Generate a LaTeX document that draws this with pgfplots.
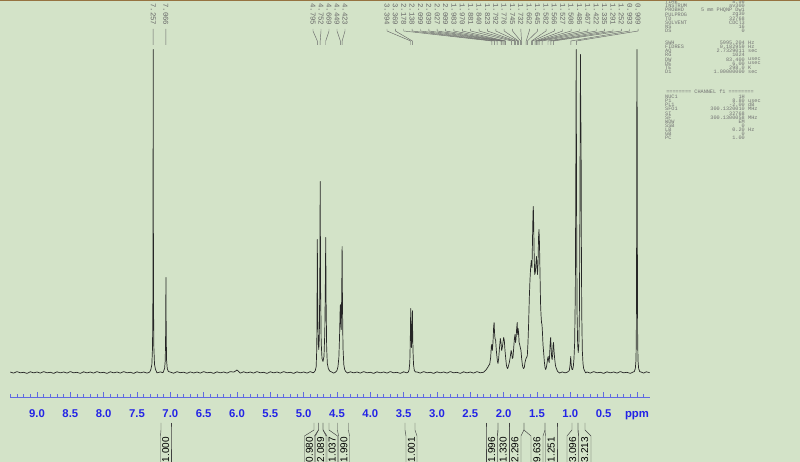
\documentclass[border=0pt]{standalone}
\usepackage{fontspec}
\setmainfont{Liberation Sans}
\newfontfamily\monofont{Liberation Mono}
\usepackage{pgfplots}
\pgfplotsset{compat=1.18}
\definecolor{bg}{RGB}{211,227,200}
\definecolor{axisblue}{RGB}{95,105,225}
\definecolor{tickblue}{RGB}{35,35,230}
\definecolor{lblgray}{RGB}{105,105,105}
\definecolor{partext}{RGB}{115,115,115}
\definecolor{topbrown}{RGB}{150,115,65}
\newcommand\prm[4]{%
  \node[pt,anchor=west] at (665,#1) {#2};
  \node[pt,anchor=east] at (745,#1) {#3};
  \node[pt,anchor=west] at (748,#1) {#4};}
\begin{document}
\begin{tikzpicture}
\path[use as bounding box, fill=bg] (0,0) rectangle (800bp,462bp);
\begin{axis}[
  at={(10bp,65bp)}, anchor=south west,
  scale only axis, width=640bp, height=397bp,
  xmin=-0.195, xmax=9.405, ymin=-24.5, ymax=372.5,
  x dir=reverse,
  axis x line=bottom, axis y line=none,
  axis line style={-, draw=axisblue, line width=0.6bp},
  x axis line style={-},
  xtick={0,0.5,1,1.5,2,2.5,3,3.5,4,4.5,5,5.5,6,6.5,7,7.5,8,8.5,9},
  xticklabels={ppm,0.5,1.0,1.5,2.0,2.5,3.0,3.5,4.0,4.5,5.0,5.5,6.0,6.5,7.0,7.5,8.0,8.5,9.0},
  minor xtick={-0.1,0,...,9.4},
  tick align=inside,
  major tick length=5bp, minor tick length=2.5bp,
  every tick/.style={draw=axisblue, line width=0.6bp},
  xticklabel style={text=tickblue, font=\fontsize{11.3bp}{13bp}\selectfont\bfseries, anchor=base, yshift=-20bp},
]
\addplot[draw=black!85, line width=0.7bp, line join=round] coordinates {
(9.40,0.5)(9.35,-0.6)(9.30,0.9)(9.25,-0.3)(9.20,0.2)(9.15,-0.9)(9.10,0.7)(9.05,-0.4)
(9.00,0.5)(8.95,-0.6)(8.90,0.9)(8.85,-0.3)(8.80,0.2)(8.75,-0.9)(8.70,0.7)(8.65,-0.4)
(8.60,0.5)(8.55,-0.6)(8.50,0.9)(8.45,-0.3)(8.40,0.2)(8.35,-0.9)(8.30,0.7)(8.25,-0.4)
(8.20,0.5)(8.15,-0.6)(8.10,0.9)(8.05,-0.3)(8.00,0.2)(7.95,-0.9)(7.90,0.7)(7.85,-0.4)
(7.80,0.5)(7.75,-0.6)(7.70,0.9)(7.65,-0.3)(7.60,0.2)(7.55,-0.9)(7.50,0.7)(7.45,-0.4)
(7.40,0.5)(7.35,-0.6)(7.31,0.4)
(7.292,3)(7.277,8)(7.267,25)(7.262,70)(7.259,180)(7.257,323)(7.255,180)(7.252,70)(7.247,25)(7.237,8)(7.222,3)
(7.20,-0.4)(7.15,0.6)(7.11,-0.2)
(7.086,4)(7.076,12)(7.071,35)(7.068,65)(7.066,95)(7.064,65)(7.061,35)(7.056,12)(7.046,4)(7.03,1)
(7.00,0.4)(6.95,-0.7)(6.90,0.8)(6.85,-0.2)(6.80,0.3)(6.75,-0.8)(6.70,0.6)(6.65,-0.5)
(6.60,0.5)(6.55,-0.6)(6.50,0.9)(6.45,-0.3)(6.40,0.2)(6.35,-0.9)(6.30,0.7)(6.25,-0.4)
(6.20,0.5)(6.15,-0.6)(6.10,0.9)(6.05,0.4)(6.02,1.5)(6.00,2.5)(5.98,1.2)(5.95,-0.6)
(5.90,0.7)(5.85,-0.4)(5.80,0.5)(5.75,-0.6)(5.70,0.9)(5.65,-0.3)(5.60,0.2)(5.55,-0.9)
(5.50,0.7)(5.45,-0.4)(5.40,0.5)(5.35,-0.6)(5.30,0.9)(5.25,-0.3)(5.20,0.2)(5.15,-0.9)
(5.10,0.7)(5.05,-0.4)(5.00,0.5)(4.95,-0.6)(4.90,0.9)(4.86,-0.3)
(4.84,0.5)(4.825,2)(4.812,6)(4.803,25)(4.799,70)(4.795,133)(4.789,60)(4.780,28)(4.773,23)
(4.765,35)(4.758,90)(4.752,191)(4.746,85)(4.737,30)(4.725,14)(4.71,11)(4.695,16)
(4.683,40)(4.675,85)(4.669,135)(4.663,70)(4.655,25)(4.645,9)(4.63,4)(4.61,1.5)
(4.58,0.5)(4.55,-0.6)(4.52,0.4)(4.50,2)(4.485,6)(4.472,15)(4.462,35)(4.453,62)
(4.449,68)(4.444,50)(4.436,43)(4.429,80)(4.423,126)(4.418,70)(4.410,25)(4.398,8)
(4.385,3)(4.37,1)(4.34,-0.5)
(4.30,0.7)(4.25,-0.4)(4.20,0.5)(4.15,-0.6)(4.10,0.9)(4.05,-0.3)(4.00,0.2)(3.95,-0.9)
(3.90,0.7)(3.85,-0.4)(3.80,0.5)(3.75,-0.6)(3.70,0.9)(3.65,-0.3)(3.60,0.2)(3.55,-0.9)
(3.50,0.7)(3.45,-0.4)
(3.43,0.5)(3.418,3)(3.408,10)(3.401,30)(3.397,50)(3.394,64)(3.390,45)(3.382,25)
(3.377,35)(3.373,50)(3.369,62)(3.366,45)(3.360,22)(3.352,8)(3.34,2)(3.32,0.4)
(3.30,0.5)(3.25,-0.6)(3.20,0.9)(3.15,-0.3)(3.10,0.2)(3.05,-0.9)(3.00,0.7)(2.95,-0.4)
(2.90,0.5)(2.85,-0.6)(2.80,0.9)(2.75,-0.3)(2.70,0.2)(2.65,-0.9)(2.60,0.7)(2.55,-0.4)
(2.50,0.5)(2.45,-0.6)(2.40,0.9)(2.35,-0.3)
(2.30,0.3)(2.28,1.5)(2.26,3)(2.24,5)(2.225,7)(2.21,8)(2.195,15)(2.185,26)(2.178,28)
(2.17,22)(2.16,30)(2.15,46)(2.143,50)(2.137,40)(2.13,34)(2.12,32)(2.11,22)(2.095,12)
(2.085,9)(2.075,14)(2.062,25)(2.05,34)(2.04,30)(2.03,22)(2.02,25)(2.01,30)(2.0,35)
(1.99,32)(1.98,22)(1.97,15)(1.96,8)(1.95,5)(1.94,4)(1.93,6)(1.915,10)(1.90,16)
(1.888,22)(1.88,20)(1.87,14)(1.86,15)(1.85,24)(1.84,33)(1.83,38)(1.822,30)(1.815,33)
(1.805,44)(1.797,50)(1.79,38)(1.783,44)(1.776,40)(1.768,30)(1.76,28)(1.75,25)(1.74,22)
(1.73,14)(1.72,8)(1.71,5)(1.70,4)(1.69,5)(1.68,10)(1.665,14)(1.655,15)(1.645,17)
(1.635,30)(1.625,50)(1.615,75)(1.605,93)(1.595,105)(1.585,112)(1.575,105)(1.568,130)
(1.56,160)(1.555,166)(1.55,150)(1.543,120)(1.535,98)(1.525,100)(1.515,110)(1.507,116)
(1.50,105)(1.492,98)(1.484,110)(1.477,135)(1.47,143)(1.463,130)(1.455,100)(1.447,70)
(1.44,58)(1.432,50)(1.425,48)(1.418,40)(1.41,28)(1.40,20)(1.39,11)(1.38,5)(1.37,3)
(1.36,5)(1.35,9)(1.34,14)(1.332,16)(1.325,12)(1.317,10)(1.31,18)(1.302,30)(1.295,35)
(1.288,25)(1.28,15)(1.273,13)(1.265,18)(1.258,28)(1.252,30)(1.245,22)(1.235,14)
(1.225,8)(1.215,5)(1.20,2.5)(1.19,1)
(1.16,-0.5)(1.12,0.6)(1.08,-0.4)(1.04,0.5)
(1.015,2)(1.003,8)(0.994,16)(0.986,7)(0.975,3)(0.965,3)
(0.955,6)(0.945,14)(0.935,30)(0.925,80)(0.918,190)(0.912,323)(0.906,160)(0.899,60)
(0.890,28)(0.881,20)(0.872,28)(0.864,60)(0.857,150)(0.851,260)(0.847,318)(0.843,230)
(0.839,250)(0.835,140)(0.829,60)(0.820,22)(0.810,9)(0.800,4)(0.785,1.5)(0.77,-0.3)
(0.75,0.5)(0.70,-0.6)(0.65,0.9)(0.60,-0.3)(0.55,0.2)(0.50,-0.9)(0.45,0.7)(0.40,-0.4)
(0.35,0.5)(0.30,-0.6)(0.25,0.9)(0.20,-0.3)(0.15,0.2)(0.10,-0.9)(0.06,0.4)
(0.04,1)(0.025,4)(0.015,12)(0.01,35)(0.006,120)(0.003,250)(0.0,323)(-0.003,250)
(-0.006,120)(-0.01,35)(-0.015,12)(-0.025,4)(-0.04,1)
(-0.06,0.5)(-0.10,-0.6)(-0.14,0.7)(-0.19,-0.2)
};
\end{axis}
\begin{scope}[x=1bp,y=-1bp,yshift=462bp,
  pt/.style={inner sep=0pt, font=\monofont\fontsize{5.2bp}{5.2bp}\selectfont, text=partext},
  pl/.style={inner sep=0pt, rotate=-90, anchor=west, font=\monofont\fontsize{7.4bp}{7.4bp}\selectfont, text=lblgray},
  il/.style={inner sep=0pt, rotate=90, anchor=east, font=\fontsize{10bp}{10bp}\selectfont, text=black}]
\fill[topbrown] (0,0) rectangle (800,1.3);
% peak labels
\foreach \p/\xl in {7.257/153.2, 7.066/165.9, 4.795/313, 4.752/321, 4.669/329, 4.449/337, 4.423/345}{
  \pgfmathsetmacro\xp{37+(9-\p)*66.6667}
  \node[pl] at (\xl,3) {\p};
  \draw[lblgray, line width=0.45bp] (\xl,29)--(\xl,31)--(\xp,41)--(\xp,45);
}
\foreach \p [count=\i from 0] in {3.394,3.369,2.178,2.138,2.099,2.039,2.027,2.009,1.983,1.970,1.881,1.840,1.823,1.792,1.776,1.745,1.732,1.662,1.645,1.582,1.566,1.527,1.508,1.486,1.467,1.422,1.335,1.291,1.252,0.993,0.909}{
  \pgfmathsetmacro\xp{37+(9-\p)*66.6667}
  \pgfmathsetmacro\xl{387+\i*8.37}
  \node[pl] at (\xl,3) {\p};
  \draw[lblgray, line width=0.45bp] (\xl,29)--(\xl,31)--(\xp,41)--(\xp,45);
}
% integrals
\foreach \v/\bl/\br/\tl/\tr in {1.000/161/171/160.5/171, 0.980/314/318.5/304.5/314.5, 2.089/318.5/323/315.5/326, 1.037/323/329/327/337.5, 1.990/337.5/348.5/338.5/349.5, 1.001/405/415/406/417, 1.996/486/498/486/497.5, 1.330/498/509/497.5/509, 2.296/509/524/509/521, 9.636/524/545/531/543, 1.251/545/557/545.5/557, 3.096/572/578/567/578.5, 3.213/578/585/578.5/591}{
  \draw[black!75, line width=0.45bp] (\bl,423)--(\bl,430)--(\tl,436)--(\tl,463);
  \draw[black!75, line width=0.45bp] (\br,423)--(\br,430)--(\tr,436)--(\tr,463);
  \pgfmathsetmacro\xc{(\tl+\tr)/2}
  \node[il] at (\xc,437) {\v};
}
% parameter panel
\prm{1.5}{TIME}{8.56}{}
\prm{6}{INSTRUM}{av300}{}
\prm{10.2}{PROBHD}{5 mm PHQNP Dw1}{}
\prm{14.3}{PULPROG}{zg30}{}
\prm{18.5}{TD}{32768}{}
\prm{22.7}{SOLVENT}{CDCl3}{}
\prm{26.8}{NS}{16}{}
\prm{31}{DS}{0}{}
\prm{42.7}{SWH}{5995.204}{Hz}
\prm{46.8}{FIDRES}{0.182959}{Hz}
\prm{51}{AQ}{2.7329011}{sec}
\prm{55.2}{RG}{1024}{}
\prm{59.3}{DW}{83.400}{usec}
\prm{63.5}{DE}{6.00}{usec}
\prm{67.7}{TE}{298.0}{K}
\prm{71.8}{D1}{1.00000000}{sec}
\node[pt] at (710,91.7) {======== CHANNEL f1 ========};
\prm{96.7}{NUC1}{1H}{}
\prm{100.8}{P1}{8.80}{usec}
\prm{105}{PL1}{-2.00}{dB}
\prm{109.1}{SFO1}{300.1320010}{MHz}
\prm{113.3}{SI}{32768}{}
\prm{117.4}{SF}{300.1300058}{MHz}
\prm{121.6}{WDW}{EM}{}
\prm{125.7}{SSB}{0}{}
\prm{129.9}{LB}{0.20}{Hz}
\prm{134}{GB}{0}{}
\prm{138.2}{PC}{1.00}{}
\end{scope}
\end{tikzpicture}
\end{document}
